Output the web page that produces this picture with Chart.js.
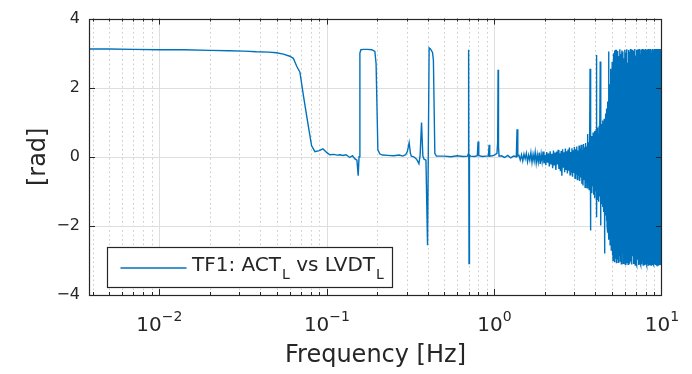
<!DOCTYPE html>
<html>
<head>
<meta charset="utf-8">
<script src="https://cdn.jsdelivr.net/npm/chart.js@4.4.1/dist/chart.umd.min.js"></script>
<style>
  html, body { margin: 0; padding: 0; background: #ffffff; }
  canvas { display: block; }
</style>
</head>
<body>
<canvas id="tf" width="692" height="374"></canvas>
<script>
// ---- Phase of TF1 (ACT_L vs LVDT_L), radians vs frequency in Hz ----

// Below 1.4 Hz: smooth phase with resonance features
const lowFreq = [
  0.0038, 0.005, 0.007, 0.01, 0.014, 0.02, 0.026, 0.032, 0.038, 0.045,
  0.05, 0.055, 0.06, 0.063, 0.066, 0.069, 0.0725, 0.0765, 0.081, 0.0848,
  0.09, 0.0946, 0.1, 0.1042, 0.11, 0.115, 0.12, 0.1245, 0.13, 0.137,
  0.142, 0.147, 0.151, 0.1537, 0.1555, 0.1573, 0.1595, 0.165, 0.175, 0.185,
  0.1932, 0.1965, 0.2014, 0.207, 0.215, 0.23, 0.25, 0.27, 0.2838, 0.295,
  0.302, 0.3096, 0.315, 0.3192, 0.33, 0.3428, 0.354, 0.36, 0.367, 0.3737,
  0.38, 0.39, 0.3986, 0.4074, 0.415, 0.4268, 0.432, 0.4406, 0.45, 0.5,
  0.55, 0.6, 0.65, 0.69, 0.698, 0.701, 0.705, 0.709, 0.72, 0.76,
  0.79, 0.798, 0.806, 0.85, 0.89, 0.92, 0.929, 0.937, 0.97, 1.0,
  1.035, 1.045, 1.051, 1.057, 1.065, 1.1, 1.15, 1.2, 1.25, 1.3,
  1.35, 1.364, 1.378
];
const lowPhase = [
  3.12, 3.12, 3.11, 3.10, 3.10, 3.08, 3.07, 3.06, 3.04, 3.03,
  3.01, 2.97, 2.91, 2.85, 2.62, 2.45, 1.75, 1.05, 0.32, 0.15,
  0.18, 0.23, 0.12, 0.06, 0.07, 0.05, 0.06, 0.04, 0.06, -0.02,
  0.03, -0.06, -0.10, -0.55, 0.0, 3.0, 3.1, 3.11, 3.11, 3.1,
  3.05, 2.7, 0.2, 0.08, 0.05, 0.04, 0.03, 0.05, 0.02, 0.06,
  0.15, 0.41, 0.1, 0.02, 0.0, -0.07, -0.2, 0.05, 0.99, 0.02,
  -0.07, -0.1, -2.56, 3.15, 3.12, 3.02, 2.8, 0.1, 0.02, 0.02,
  0.0, 0.03, 0.01, 0.02, 0.08, 3.1, -3.09, 0.05, 0.02, 0.01,
  0.03, 0.44, 0.03, 0.01, 0.02, 0.02, 0.35, 0.02, 0.03, 0.05,
  0.1, 0.42, 2.52, 0.3, 0.02, 0.03, -0.02, 0.04, -0.03, 0.02,
  0.0, 0.8, 0.02
];

// 1.4 - 3.7 Hz: noise floor starts to grow
const midFreq = [
  1.400, 1.425, 1.450, 1.475, 1.500, 1.525, 1.550, 1.575, 1.600, 1.625,
  1.650, 1.675, 1.700, 1.725, 1.750, 1.775, 1.800, 1.825, 1.850, 1.875,
  1.900, 1.925, 1.950, 1.975, 2.000, 2.025, 2.050, 2.075, 2.100, 2.125,
  2.150, 2.175, 2.200, 2.225, 2.250, 2.275, 2.300, 2.325, 2.350, 2.375,
  2.400, 2.425, 2.450, 2.475, 2.500, 2.525, 2.550, 2.575, 2.600, 2.625,
  2.650, 2.675, 2.700, 2.725, 2.750, 2.775, 2.800, 2.825, 2.850, 2.875,
  2.900, 2.925, 2.950, 2.975, 3.000, 3.025, 3.050, 3.075, 3.100, 3.125,
  3.150, 3.175, 3.200, 3.225, 3.250, 3.275, 3.300, 3.325, 3.350, 3.375,
  3.400, 3.425, 3.450, 3.475, 3.500, 3.525, 3.550, 3.575, 3.600, 3.625,
  3.650, 3.675
];
const midPhase = [
  0.04, -0.09, 0.06, -0.12, 0.08, -0.06, 0.10, -0.14, 0.05, -0.10,
  0.12, -0.16, 0.07, -0.12, 0.13, -0.18, 0.06, -0.15, 0.12, -0.21,
  0.08, -0.14, 0.15, -0.19, 0.05, -0.24, 0.14, -0.17, 0.10, -0.28,
  0.16, -0.20, 0.09, -0.33, 0.18, -0.25, 0.12, -0.38, 0.15, -0.22,
  0.20, -0.35, 0.10, -0.42, 0.17, -0.55, 0.22, -0.30, 0.13, -0.45,
  0.24, -0.36, 0.16, -0.48, 0.21, -0.40, 0.27, -0.52, 0.14, -0.44,
  0.25, -0.58, 0.19, -0.47, 0.28, -0.62, 0.22, -0.50, 0.30, -0.66,
  0.18, -0.55, 0.33, -0.70, 0.24, -0.60, 0.35, -0.78, 0.20, -0.83,
  0.37, -0.65, 0.28, -0.88, 0.40, -0.72, 0.30, -0.90, 0.66, -0.80,
  0.42, -0.95
];

// 3.7 - 5.35 Hz: coherence collapsing, phase spikes
const highFreq = [
  3.70, 3.72, 3.74, 3.76, 3.78, 3.80, 3.82, 3.84, 3.86, 3.88,
  3.90, 3.92, 3.94, 3.96, 3.98, 4.00, 4.02, 4.04, 4.06, 4.08,
  4.10, 4.12, 4.14, 4.16, 4.18, 4.20, 4.22, 4.24, 4.26, 4.28,
  4.30, 4.32, 4.34, 4.36, 4.38, 4.40, 4.42, 4.44, 4.46, 4.48,
  4.50, 4.52, 4.54, 4.56, 4.58, 4.60, 4.62, 4.64, 4.66, 4.68,
  4.70, 4.72, 4.74, 4.76, 4.78, 4.80, 4.82, 4.84, 4.86, 4.88,
  4.90, 4.92, 4.94, 4.96, 4.98, 5.00, 5.02, 5.04, 5.06, 5.08,
  5.10, 5.12, 5.14, 5.16, 5.18, 5.20, 5.22, 5.24, 5.26, 5.28,
  5.30, 5.32, 5.34
];
const highPhase = [
  0.45, 2.55, -2.13, 0.50, -0.95, 0.60, -1.05, 0.48, -0.85, 0.70,
  -1.10, 0.55, -0.92, 0.75, -1.20, 0.62, -1.00, 0.80, 2.95, -1.75,
  0.70, -1.25, 0.85, -1.05, 0.65, -1.30, 0.90, -1.15, 0.72, 2.76,
  -1.99, 0.80, -1.35, 0.95, -1.20, 0.78, -1.45, 1.05, -1.30, 0.88,
  -1.60, 1.10, -2.80, 0.92, -1.50, 1.25, -1.70, 1.05, -1.85, 1.40,
  -2.00, 1.20, -2.20, 1.60, -1.90, 3.05, -2.40, 1.85, -2.10, 2.10,
  -2.55, 2.30, -2.30, 2.55, -2.70, 2.40, -2.50, 2.75, -2.85, 2.60,
  -3.00, 2.90, -2.75, 3.00, -2.90, 2.85, -3.05, 3.08, -2.80, 3.10,
  -2.95, 3.06, -3.08
];

// 5.36 - 10 Hz: phase wraps across the full +/- pi range
const topFreq = [
  5.36, 5.40, 5.44, 5.48, 5.52, 5.56, 5.60, 5.64, 5.68, 5.72,
  5.76, 5.80, 5.84, 5.88, 5.92, 5.96, 6.00, 6.04, 6.08, 6.12,
  6.16, 6.20, 6.24, 6.28, 6.32, 6.36, 6.40, 6.44, 6.48, 6.52,
  6.56, 6.60, 6.64, 6.68, 6.72, 6.76, 6.80, 6.84, 6.88, 6.92,
  6.96, 7.00, 7.04, 7.08, 7.12, 7.16, 7.20, 7.24, 7.28, 7.32,
  7.36, 7.40, 7.44, 7.48, 7.52, 7.56, 7.60, 7.64, 7.68, 7.72,
  7.76, 7.80, 7.84, 7.88, 7.92, 7.96, 8.00, 8.04, 8.08, 8.12,
  8.16, 8.20, 8.24, 8.28, 8.32, 8.36, 8.40, 8.44, 8.48, 8.52,
  8.56, 8.60, 8.64, 8.68, 8.72, 8.76, 8.80, 8.84, 8.88, 8.92,
  8.96, 9.00, 9.04, 9.08, 9.12, 9.16, 9.20, 9.24, 9.28, 9.32,
  9.36, 9.40, 9.44, 9.48, 9.52, 9.56, 9.60, 9.64, 9.68, 9.72,
  9.76, 9.80, 9.84, 9.88, 9.92, 9.96, 10.00
];
const topPhase = [
  3.10, -2.95, 3.06, -3.05, 2.92, -2.85, 3.11, -3.02, 2.98, -3.10,
  3.08, -2.78, 3.05, -3.08, 2.85, -3.00, 3.10, -3.12, 3.02, -2.90,
  3.11, -3.06, 2.72, -3.11, 3.09, -2.96, 3.04, -3.09, 3.12, -3.03,
  2.95, -3.12, 3.10, -2.88, 3.07, -3.10, 3.01, -3.08, 3.12, -3.13,
  2.93, -3.05, 3.10, -3.12, 3.08, -2.98, 3.11, -3.13, 3.05, -3.10,
  3.12, -3.07, 2.98, -3.13, 3.09, -3.11, 3.12, -3.02, 3.06, -3.13,
  3.11, -3.09, 2.96, -3.13, 3.10, -3.12, 3.12, -3.06, 3.08, -3.13,
  3.11, -3.10, 3.03, -3.13, 3.12, -3.11, 3.09, -3.13, 3.11, -3.08,
  3.12, -3.13, 3.00, -3.12, 3.10, -3.13, 3.12, -3.10, 3.07, -3.13,
  3.11, -3.12, 3.12, -3.09, 3.05, -3.13, 3.12, -3.11, 3.10, -3.13,
  3.12, -3.10, 3.08, -3.13, 3.12, -3.12, 3.11, -3.13, 3.12, -3.11,
  3.09, -3.13, 3.12, -3.12, 3.11, -3.13, 3.12
];

// Axis ticks and labels
const xMajorTicks = [0.01, 0.1, 1, 10];
const xTickExponents = ['\u22122', '\u22121', '0', '1'];
const xDecades = [0.001, 0.01, 0.1, 1];
const minorMultiples = [2, 3, 4, 5, 6, 7, 8, 9];
const yTicks = [-4, -2, 0, 2, 4];
const X_MIN = 0.0038, X_MAX = 10;

const LINE_BLUE = '#0072BD';
const INK = '#262626';
const FONT = "'DejaVu Sans', sans-serif";

// assemble {x, y} pairs for the single trace
const traceSegments = [
  [lowFreq, lowPhase], [midFreq, midPhase], [highFreq, highPhase], [topFreq, topPhase]
];
const tracePoints = [];
for (const [fs, ps] of traceSegments) {
  const n = Math.min(fs.length, ps.length);
  for (let i = 0; i < n; i++) tracePoints.push({ x: fs[i], y: ps[i] });
}

// grid: dotted minor lines, solid major lines
const gridLines = {
  id: 'gridLines',
  beforeDatasetsDraw(chart) {
    const { ctx, chartArea: a, scales: { x, y } } = chart;
    ctx.save();
    ctx.lineWidth = 1;
    ctx.strokeStyle = '#c9c9c9';
    ctx.setLineDash([1.5, 3]);
    for (const d of xDecades) {
      for (const m of minorMultiples) {
        const v = m * d;
        if (v <= X_MIN || v >= X_MAX) continue;
        const px = Math.round(x.getPixelForValue(v)) + 0.5;
        ctx.beginPath(); ctx.moveTo(px, a.top); ctx.lineTo(px, a.bottom); ctx.stroke();
      }
    }
    ctx.setLineDash([]);
    ctx.strokeStyle = '#dedede';
    for (const v of xMajorTicks) {
      if (v <= X_MIN || v >= X_MAX) continue;
      const px = Math.round(x.getPixelForValue(v)) + 0.5;
      ctx.beginPath(); ctx.moveTo(px, a.top); ctx.lineTo(px, a.bottom); ctx.stroke();
    }
    for (const v of yTicks) {
      if (v <= y.min || v >= y.max) continue;
      const py = Math.round(y.getPixelForValue(v)) + 0.5;
      ctx.beginPath(); ctx.moveTo(a.left, py); ctx.lineTo(a.right, py); ctx.stroke();
    }
    ctx.restore();
  },
  afterDatasetsDraw(chart) {
    const { ctx, chartArea: a, scales: { x, y } } = chart;
    ctx.save();
    ctx.strokeStyle = INK;
    ctx.lineWidth = 1;
    // inward tick marks on all four sides
    const tick = (x1, y1, x2, y2) => { ctx.beginPath(); ctx.moveTo(x1, y1); ctx.lineTo(x2, y2); ctx.stroke(); };
    for (const d of xDecades) {
      for (const m of [1, ...minorMultiples]) {
        const v = m * d;
        if (v <= X_MIN || v >= X_MAX) continue;
        const len = m === 1 ? 6 : 3;
        const px = Math.round(x.getPixelForValue(v)) + 0.5;
        tick(px, a.bottom, px, a.bottom - len);
        tick(px, a.top, px, a.top + len);
      }
    }
    for (const v of yTicks) {
      const py = Math.round(y.getPixelForValue(v)) + 0.5;
      tick(a.left, py, a.left + 6, py);
      tick(a.right, py, a.right - 6, py);
    }
    ctx.lineWidth = 1.2;
    ctx.strokeRect(Math.round(a.left) + 0.5, Math.round(a.top) + 0.5,
      Math.round(a.right - a.left) - 1, Math.round(a.bottom - a.top));
    ctx.restore();
  }
};

// legend with subscripted labels, bottom-left inside the axes
const subLegend = {
  id: 'subLegend',
  afterDatasetsDraw(chart) {
    const { ctx, chartArea: a } = chart;
    const bx = a.left + 18.5, by = a.bottom - 47.5, bw = 285, bh = 40;
    ctx.save();
    ctx.fillStyle = '#ffffff';
    ctx.fillRect(bx, by, bw, bh);
    ctx.strokeStyle = INK;
    ctx.lineWidth = 1.2;
    ctx.strokeRect(bx, by, bw, bh);
    ctx.strokeStyle = LINE_BLUE;
    ctx.lineWidth = 1.4;
    ctx.beginPath();
    ctx.moveTo(bx + 13, by + 20.5);
    ctx.lineTo(bx + 79, by + 20.5);
    ctx.stroke();
    const parts = [['TF1: ACT', false], ['L', true], [' vs LVDT', false], ['L', true]];
    let tx = bx + 84.5;
    const base = by + 23.5;
    ctx.fillStyle = INK;
    ctx.textBaseline = 'alphabetic';
    ctx.textAlign = 'left';
    for (const [t, sub] of parts) {
      ctx.font = (sub ? '14px ' : '20px ') + FONT;
      ctx.fillText(t, tx + (sub ? 1 : 0), sub ? base + 8 : base);
      tx += ctx.measureText(t).width + (sub ? 1 : 0);
    }
    ctx.restore();
  }
};

// decade labels 10^k under the x axis
const decadeLabels = {
  id: 'decadeLabels',
  afterDraw(chart) {
    const { ctx, chartArea: a, scales: { x } } = chart;
    ctx.save();
    ctx.fillStyle = INK;
    ctx.textBaseline = 'alphabetic';
    ctx.textAlign = 'left';
    xMajorTicks.forEach((v, i) => {
      const px = x.getPixelForValue(v);
      ctx.font = '20px ' + FONT;
      const wb = ctx.measureText('10').width;
      ctx.font = '14px ' + FONT;
      const we = ctx.measureText(xTickExponents[i]).width;
      const start = px - (wb + we) / 2;
      ctx.font = '20px ' + FONT;
      ctx.fillText('10', start, a.bottom + 36);
      ctx.font = '14px ' + FONT;
      ctx.fillText(xTickExponents[i], start + wb, a.bottom + 26);
    });
    ctx.restore();
  }
};

new Chart(document.getElementById('tf'), {
  type: 'line',
  data: {
    datasets: [{
      label: 'TF1: ACT_L vs LVDT_L',
      data: tracePoints,
      borderColor: LINE_BLUE,
      borderWidth: 1.4,
      pointRadius: 0,
      tension: 0,
      fill: false
    }]
  },
  options: {
    responsive: false,
    animation: false,
    devicePixelRatio: 1,
    layout: { padding: { left: 0, right: 30, top: 17, bottom: 0 } },
    plugins: { legend: { display: false }, tooltip: { enabled: false } },
    scales: {
      x: {
        type: 'logarithmic',
        min: X_MIN,
        max: X_MAX,
        afterBuildTicks: s => { s.ticks = xMajorTicks.map(v => ({ value: v })); },
        afterFit: s => { s.height = 79; },
        grid: { display: false, drawTicks: false },
        border: { display: false },
        ticks: { display: false },
        title: {
          display: true, text: 'Frequency [Hz]', color: INK,
          font: { family: FONT, size: 24 }, padding: { top: 0, bottom: 3.5 }
        }
      },
      y: {
        min: -4,
        max: 4,
        afterBuildTicks: s => { s.ticks = yTicks.map(v => ({ value: v })); },
        afterFit: s => { s.width = 89; },
        grid: { display: false, drawTicks: false },
        border: { display: false },
        ticks: {
          color: INK, padding: 9,
          font: { family: FONT, size: 16 },
          callback: v => String(v).replace('-', '\u2212')
        },
        title: {
          display: true, text: '[rad]', color: INK,
          font: { family: FONT, size: 24 }, padding: { top: 24.5, bottom: 0 }
        }
      }
    }
  },
  plugins: [gridLines, subLegend, decadeLabels]
});
</script>
</body>
</html>
